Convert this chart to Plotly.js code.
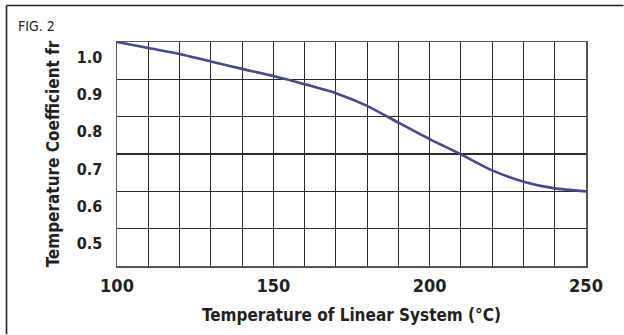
<!DOCTYPE html>
<html>
<head>
<meta charset="utf-8">
<script src="https://cdn.plot.ly/plotly-3.0.1.min.js"></script>
<style>
  html, body { margin: 0; padding: 0; background: #ffffff; overflow: hidden; }
  #chart { width: 624px; height: 335px; }
</style>
</head>
<body>
<div id="chart"></div>
<script>
// Temperature of linear system (°C)
var temperature = [100, 110, 120, 130, 140, 150, 160, 170, 180, 190, 200, 210, 220, 230, 240, 250];
// Temperature coefficient fr
var coefficient = [1.040, 1.024, 1.008, 0.988, 0.968, 0.949, 0.927, 0.903, 0.869, 0.824, 0.780, 0.739, 0.696, 0.666, 0.648, 0.640];

var yTickVals = [0.5, 0.6, 0.7, 0.8, 0.9, 1.0];
var yTickText = ['0.5', '0.6', '0.7', '0.8', '0.9', '1.0'];
var xTickVals = [100, 150, 200, 250];
var xTickText = ['100', '150', '200', '250'];

var narrow = '"Liberation Sans Narrow", "DejaVu Sans Condensed", "Arial Narrow", sans-serif';
var ink = '#231f20';
var gridCol = '#2a2a2a';

var trace = {
  x: temperature,
  y: coefficient,
  type: 'scatter',
  mode: 'lines',
  line: { color: '#474a8a', width: 2.6, shape: 'spline', smoothing: 0.6 },
  hoverinfo: 'x+y'
};

var layout = {
  width: 624,
  height: 335,
  margin: { l: 117, r: 38.4, t: 42, b: 69 },
  paper_bgcolor: '#ffffff',
  plot_bgcolor: '#ffffff',
  showlegend: false,
  title: {
    text: 'FIG. 2',
    x: 18 / 624, xanchor: 'left', xref: 'container',
    y: 1 - 26 / 335, yanchor: 'middle', yref: 'container',
    font: { family: narrow, size: 14, color: ink }
  },
  xaxis: {
    range: [100, 250],
    tickvals: xTickVals,
    ticktext: xTickText,
    ticks: '',
    showgrid: false,
    minor: { dtick: 10, tick0: 100, showgrid: true, gridcolor: gridCol, gridwidth: 1.1, ticks: '' },
    showline: true, mirror: true, linecolor: '#555555', linewidth: 1.5,
    zeroline: false,
    ticklabelstandoff: 3,
    tickfont: { family: narrow, size: 18, color: ink, weight: 'bold' },
    title: {
      text: 'Temperature of Linear System (°C)',
      standoff: 14,
      font: { family: narrow, size: 17, color: ink, weight: 'bold' }
    },
    automargin: false,
    fixedrange: true
  },
  yaxis: {
    range: [0.44, 1.04],
    tickvals: yTickVals,
    ticktext: yTickText,
    ticks: '',
    showgrid: false,
    minor: { tick0: 0.44, dtick: 0.1, showgrid: true, gridcolor: gridCol, gridwidth: 1.1, ticks: '' },
    showline: true, mirror: true, linecolor: '#555555', linewidth: 1.5,
    zeroline: false,
    ticklabelstandoff: 10,
    tickfont: { family: narrow, size: 16, color: ink, weight: 'bold' },
    title: {
      text: 'Temperature Coefficient fr',
      standoff: 13,
      font: { family: narrow, size: 17, color: ink, weight: 'bold' }
    },
    automargin: false,
    fixedrange: true
  },
  shapes: [
    { type: 'line', xref: 'paper', yref: 'paper', x0: -0.2356, x1: -0.2356, y0: 1.163, y1: -0.305,
      line: { color: ink, width: 1.6 } },
    { type: 'line', xref: 'paper', yref: 'paper', x0: -0.2356, x1: 1.08, y0: 1.163, y1: 1.163,
      line: { color: ink, width: 1.6 } }
  ]
};

Plotly.newPlot('chart', [trace], layout, { displayModeBar: false, staticPlot: true });
</script>
</body>
</html>
